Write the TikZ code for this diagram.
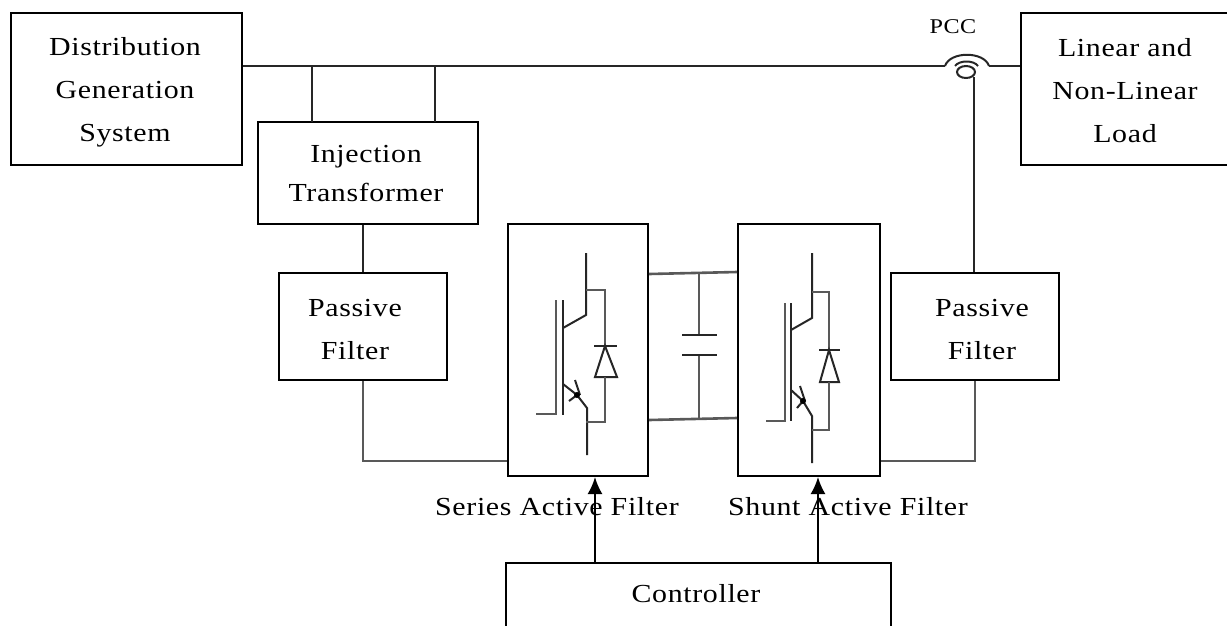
\documentclass[tikz,border=0pt]{standalone}
\usepackage{fontspec}
\setmainfont[LetterSpace=2.5,FakeStretch=1.15]{Liberation Serif}
\usetikzlibrary{arrows.meta}
\tikzset{block/.style={draw=black,line width=2pt,fill=white,inner sep=0pt},
  lbl/.style={inner sep=0pt,align=center,font=\fontsize{26}{43}\selectfont},
  wire/.style={draw=black!85,line width=2pt},
  graywire/.style={draw=black!65,line width=2.6pt},
  feed/.style={draw=black,line width=2pt,-{Latex[length=17pt,width=15pt]}}}
\begin{document}
\begin{tikzpicture}[x=1pt,y=-1pt]
   \useasboundingbox (0,0) rectangle (1227,625);
   % blocks
   \node[block,minimum width=231pt,minimum height=152pt] (dist) at (126.5,89) {};
   \node[block,minimum width=210pt,minimum height=152pt] (load) at (1126,89) {};
   \node[block,minimum width=220pt,minimum height=102pt] (inj) at (368,173) {};
   \node[block,minimum width=168pt,minimum height=107pt] (pfa) at (363,326.5) {};
   \node[block,minimum width=168pt,minimum height=107pt] (pfb) at (975,326.5) {};
   \node[block,minimum width=140pt,minimum height=252pt] (saf) at (578,350) {};
   \node[block,minimum width=142pt,minimum height=252pt] (shf) at (809,350) {};
   \node[block,minimum width=385pt,minimum height=80pt] (ctrl) at (698.5,603) {};
   % texts
   \node[lbl] (disttxt) at (125,92) {Distribution\\Generation\\System};
   \node[lbl] (loadtxt) at (1125,91) {Linear and\\Non-Linear\\Load};
   \node[lbl,font=\fontsize{26}{39}\selectfont] (injtxt) at (366,174) {Injection\\Transformer};
   \node[lbl] (pfatxt) at (355,330) {Passive\\Filter};
   \node[lbl] (pfbtxt) at (982,330) {Passive\\Filter};
   \node[lbl] (ctrltxt) at (696,594) {Controller};
   \node[lbl,font=\fontsize{21}{24}\selectfont] (pcc) at (953,27) {PCC};
   \node[lbl] (saftxt) at (557,507) {Series Active Filter};
   \node[lbl] (shftxt) at (848,507) {Shunt Active Filter};
   % bus
   \coordinate (pcca) at (945,66);
   \coordinate (pccb) at (989,66);
   \coordinate (pccc) at (974,77);
   \draw[wire] (dist.east |- pcca) -- (pcca);
   \draw[wire] (pccb) -- (load.west |- pccb);
   \draw[wire] (pcca) .. controls (950,51) and (984,51) .. (pccb);
   \draw[wire] (955,66) .. controls (959,60) and (974,60) .. (978,66);
   \draw[wire] (966,72) ellipse (9 and 6);
   \draw[wire] (312,66) -- (312,122);
   \draw[wire] (435,66) -- (435,122);
   \draw[wire] (pccc) -- (pccc |- pfb.north);
   % filters
   \draw[wire] (inj.south -| pfa.north) -- (pfa.north);
   \draw[graywire] (pfa.south) |- (saf.west |- 0,461);
   \draw[graywire] (pfb.south) |- (shf.east |- 0,461);
   % dc link
   \coordinate (capa) at (699,335);
   \coordinate (capb) at (699,355);
   \draw[graywire] (saf.east |- 0,274) -- (shf.west |- 0,272);
   \draw[graywire] (saf.east |- 0,420) -- (shf.west |- 0,418);
   \draw[graywire] (capa) -- (699,273);
   \draw[graywire] (capb) -- (699,419);
   \draw[wire] (682,335) -- (717,335);
   \draw[wire] (682,355) -- (717,355);
   % series switch
   \draw[wire] (586,253) -- (586,315) -- (563,328);
   \draw[graywire] (556,300) -- (556,414) -- (536,414);
   \draw[wire] (563,300) -- (563,415);
   \draw[wire] (563,384) -- (577,395) -- (587,408) -- (587,455);
   \draw[wire] (575,380) -- (580,395);
   \draw[wire] (569,401) -- (577,395);
   \fill[black] (577,395) circle (3);
   \draw[graywire] (586,290) -- (605,290) -- (605,346);
   \draw[wire] (594,346) -- (617,346);
   \draw[wire] (605,346) -- (595,377) -- (617,377) -- cycle;
   \draw[graywire] (605,377) -- (605,422) -- (586,422);
   % shunt switch
   \draw[wire] (812,253) -- (812,318) -- (791,330);
   \draw[graywire] (785,303) -- (785,421) -- (766,421);
   \draw[wire] (791,303) -- (791,421);
   \draw[wire] (791,390) -- (803,401) -- (812,416) -- (812,463);
   \draw[wire] (800,386) -- (805,401);
   \draw[wire] (797,408) -- (803,401);
   \fill[black] (803,401) circle (3);
   \draw[graywire] (812,292) -- (829,292) -- (829,350);
   \draw[wire] (819,350) -- (840,350);
   \draw[wire] (829,350) -- (820,382) -- (839,382) -- cycle;
   \draw[graywire] (829,382) -- (829,430) -- (812,430);
   % control
   \draw[feed] (ctrl.north -| 595,0) -- (saf.south -| 595,0);
   \draw[feed] (ctrl.north -| 818,0) -- (shf.south -| 818,0);
\end{tikzpicture}
\end{document}
